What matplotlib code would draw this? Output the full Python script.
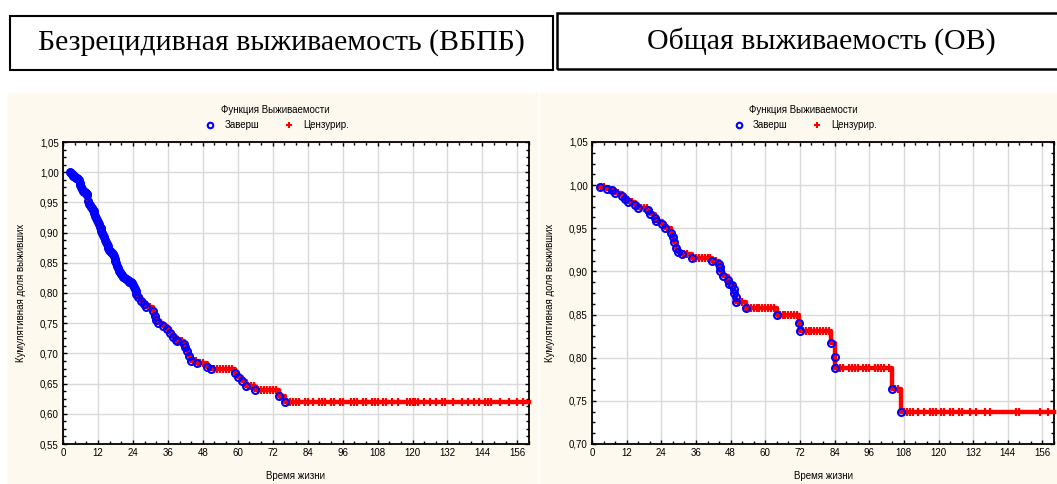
import numpy as np
import matplotlib.pyplot as plt
from matplotlib.patches import Rectangle
from matplotlib.ticker import MultipleLocator, FuncFormatter

# --- данные: безрецидивная выживаемость (ВБПБ) ---
dfs_time = [2.4, 2.7, 3.0, 3.3, 3.6, 3.9, 4.2, 4.5, 4.8, 5.1,
            5.4, 5.7, 6.0, 6.3, 6.6, 6.9, 7.2, 7.5, 7.8, 8.1,
            8.4, 8.7, 9.0, 9.3, 9.6, 9.9, 10.2, 10.5, 10.8, 11.1,
            11.4, 11.7, 12.0, 12.3, 12.6, 12.9, 13.2, 13.5, 13.8, 14.1,
            14.4, 14.7, 15.0, 15.3, 15.6, 15.9, 16.2, 16.5, 16.8, 17.1,
            17.4, 17.7, 18.0, 18.3, 18.6, 18.9, 19.2, 19.5, 19.8, 20.2,
            20.7, 21.2, 21.7, 22.2, 22.7, 23.2, 23.6, 24.0, 24.3, 24.6,
            24.9, 25.2, 25.9, 26.8, 27.8, 28.6, 30.9, 31.5, 32.1, 32.6,
            34.4, 35.6, 36.8, 37.9, 38.8, 39.3, 41.4, 42.0, 42.6, 43.2,
            43.8, 46.1, 49.6, 50.8, 58.9, 60.1, 61.3, 63.0, 65.9, 74.1,
            76.1]
dfs_surv = [1.000, 0.998, 0.997, 0.995, 0.994, 0.993, 0.992, 0.991, 0.990, 0.989,
            0.987, 0.982, 0.978, 0.975, 0.972, 0.969, 0.968, 0.967, 0.966, 0.964,
            0.962, 0.952, 0.948, 0.945, 0.943, 0.941, 0.938, 0.935, 0.932, 0.928,
            0.925, 0.921, 0.917, 0.914, 0.910, 0.907, 0.903, 0.900, 0.896, 0.892,
            0.888, 0.885, 0.881, 0.878, 0.874, 0.872, 0.870, 0.868, 0.866, 0.864,
            0.861, 0.857, 0.853, 0.849, 0.845, 0.841, 0.837, 0.834, 0.831, 0.829,
            0.827, 0.825, 0.823, 0.821, 0.819, 0.818, 0.816, 0.813, 0.810, 0.807,
            0.803, 0.799, 0.793, 0.787, 0.781, 0.776, 0.770, 0.762, 0.755, 0.750,
            0.746, 0.740, 0.733, 0.727, 0.723, 0.720, 0.715, 0.710, 0.704, 0.695,
            0.688, 0.684, 0.678, 0.674, 0.668, 0.661, 0.654, 0.646, 0.639, 0.629,
            0.619]
dfs_cens = [10, 15, 20, 22, 23, 25.5, 26.2, 27.2, 28.2, 29.2, 30, 31, 33.5, 35, 36.2,
            38.3, 40.2, 41, 44.5, 45, 45.5, 46.5, 47, 48, 50, 52, 53, 54, 55, 56, 57, 58,
            59, 62, 63.5, 64.5, 65.5, 67, 68, 69, 70, 71, 72, 73, 74.5, 75, 77, 78, 79,
            80, 81, 83, 84, 86, 88, 89, 90, 92, 93, 95, 96, 99, 100, 101, 103, 104, 106,
            107, 108, 110, 111, 113, 115, 118, 119, 120, 121, 122, 124, 126, 128, 130,
            131, 134, 137, 139, 141, 143, 145, 146, 147, 150, 153, 156, 158]

# --- данные: общая выживаемость (ОВ) ---
os_time = [2.8, 5.1, 6.8, 8.0, 10.3, 11.4, 12.3, 14.9, 16.1, 19.5, 20.1, 21.8, 22.2,
           24.2, 25.3, 27.3, 28.0, 28.4, 29.0, 29.9, 31.1, 34.6, 41.5, 44.1, 44.2, 44.3,
           45.5, 47.0, 47.6, 48.4, 49.1, 49.3, 49.7, 50.0, 53.2, 64.1, 71.8, 71.9, 82.6,
           84.0, 84.1, 103.8, 107.1]
os_surv = [0.998, 0.996, 0.994, 0.991, 0.987, 0.984, 0.980, 0.977, 0.974, 0.971, 0.967,
           0.962, 0.958, 0.955, 0.950, 0.945, 0.940, 0.934, 0.927, 0.923, 0.920, 0.916,
           0.912, 0.909, 0.905, 0.900, 0.895, 0.890, 0.886, 0.884, 0.880, 0.875, 0.870,
           0.864, 0.858, 0.850, 0.840, 0.831, 0.817, 0.801, 0.788, 0.764, 0.737]
os_cens = [3, 4, 6, 9, 13, 14, 17, 18, 19, 23, 26, 30.5, 31.5, 32, 33, 35, 36, 37, 38,
           39, 40, 41, 42, 43, 50.5, 51, 52, 53.5, 54, 55, 56, 57, 58, 59, 60, 61, 62,
           63, 64.5, 65, 66, 67, 68, 69, 70, 71, 73, 74, 75, 76, 77, 78, 79, 80, 81, 82,
           85, 86, 87, 89, 90, 91, 92, 94, 95, 96, 98, 99, 100, 101, 103, 105, 106, 108,
           109, 110, 111, 113, 115, 117, 118, 119, 121, 122, 124, 125, 127, 128, 131,
           133, 136, 138, 147, 148, 155, 158]

xticks = list(range(0, 157, 12))
x_max = 160

W, H = 1057, 484
cream = '#FDF9EE'

plt.rcParams['font.family'] = ['Liberation Sans', 'DejaVu Sans']
fig = plt.figure(figsize=(W / 100, H / 100), dpi=100)


def px_axes(x0, y0, x1, y1, **kw):
    return fig.add_axes([x0 / W, 1 - y1 / H, (x1 - x0) / W, (y1 - y0) / H], **kw)


def surv_at(times, surv, t):
    i = np.searchsorted(times, t, side='right') - 1
    return surv[i] if i >= 0 else 1.0


def km_panel(ax, times, surv, cens, ylo, yhi, leg_x):
    times = np.array(times)
    surv = np.array(surv)
    xs = np.append(times, x_max)
    ys = np.append(surv, surv[-1])
    ax.step(xs, ys, where='post', color='red', lw=3.2, zorder=3, clip_on=False)
    cy = [surv_at(times, surv, t) for t in cens]
    ax.plot(cens, cy, ls='none', marker='+', ms=6, mew=1.6, color='red', zorder=4)
    ax.plot(times, surv, ls='none', marker='o', ms=5, mew=1.5, mfc='none',
            mec='blue', zorder=5)
    ax.set_xlim(0, x_max)
    ax.set_ylim(ylo, yhi)
    ax.set_xticks(xticks)
    ax.xaxis.set_minor_locator(MultipleLocator(4))
    ax.yaxis.set_major_locator(MultipleLocator(0.05))
    ax.yaxis.set_minor_locator(MultipleLocator(0.0125))
    ax.yaxis.set_major_formatter(FuncFormatter(lambda v, p: f'{v:.2f}'.replace('.', ',')))
    ax.grid(True, color='#D9D9D9', lw=1)
    ax.set_axisbelow(True)
    ax.tick_params(which='both', direction='in', top=True, right=True,
                   labelsize=7, colors='black', pad=3)
    ax.tick_params(which='major', length=3, width=1)
    ax.tick_params(which='minor', length=2, width=1)
    for s in ax.spines.values():
        s.set_linewidth(1.3)
    ax.set_xlabel('Время жизни', fontsize=7, labelpad=9)
    ax.set_ylabel('Кумулятивная доля выживших', fontsize=7, labelpad=10)
    # легенда
    h1, = ax.plot([], [], ls='none', marker='o', ms=4, mew=1.5, mfc='none', mec='blue')
    h2, = ax.plot([], [], ls='none', marker='+', ms=5, mew=1.5, color='red')
    ax.legend([h1, h2], ['Заверш', 'Цензурир.'], ncol=2, loc='lower center',
              bbox_to_anchor=(leg_x, 1.0), frameon=False, fontsize=7,
              handletextpad=0.5, columnspacing=2.0, borderaxespad=0.8,
              title='Функция Выживаемости', title_fontsize=7)


# фон панелей
fig.patches.append(Rectangle((8 / W, 0), (537 - 8) / W, (H - 93) / H,
                             transform=fig.transFigure, color=cream, zorder=-5))
fig.patches.append(Rectangle((540 / W, 0), (W - 540) / W, (H - 93) / H,
                             transform=fig.transFigure, color=cream, zorder=-5))

# заголовки в рамках
fig.patches.append(Rectangle((10 / W, 1 - 70 / H), (553 - 10) / W, 54 / H,
                             transform=fig.transFigure, fill=False, ec='black', lw=1.5))
fig.patches.append(Rectangle((557 / W, 1 - 69 / H), (1065 - 557) / W, 56 / H,
                             transform=fig.transFigure, fill=False, ec='black', lw=1.8,
                             clip_on=False))
fig.text(281 / W, 1 - 43 / H, 'Безрецидивная выживаемость (ВБПБ)', ha='center',
         va='center', fontsize=21.5, family='Liberation Serif')
fig.text(821 / W, 1 - 41 / H, 'Общая выживаемость (ОВ)', ha='center', va='center',
         fontsize=21.5, family='Liberation Serif')

ax1 = px_axes(63, 142, 529, 444)
km_panel(ax1, dfs_time, dfs_surv, dfs_cens, 0.55, 1.05, 0.455)

ax2 = px_axes(592, 142, 1054, 444)
km_panel(ax2, os_time, os_surv, os_cens, 0.70, 1.05, 0.457)

fig.savefig('out.png', dpi=100)
